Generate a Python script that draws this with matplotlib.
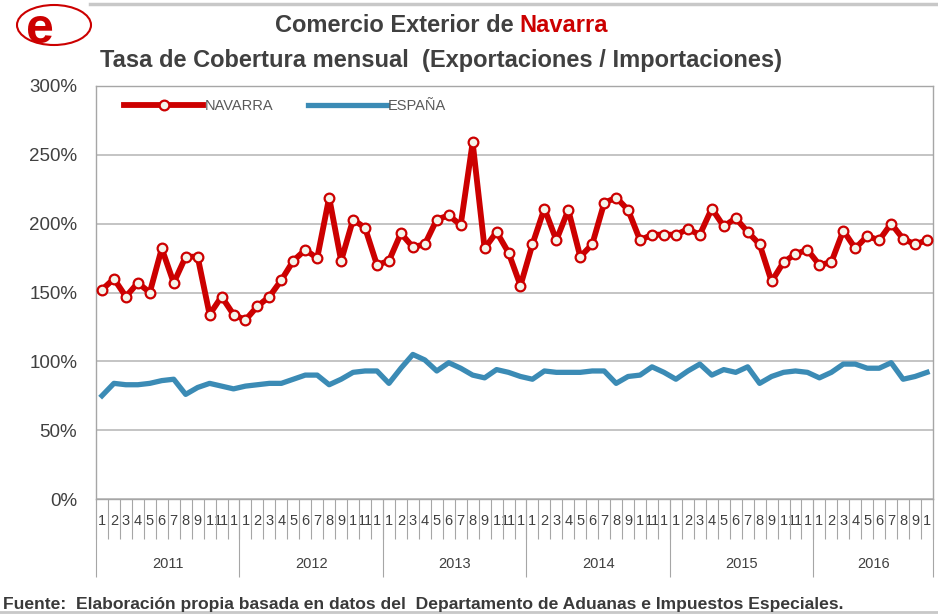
import numpy as np
import matplotlib
matplotlib.use("Agg")
import matplotlib.pyplot as plt
from matplotlib.patches import Ellipse
from matplotlib.ticker import FuncFormatter

plt.rcParams['font.family'] = ['Liberation Sans', 'DejaVu Sans']

# monthly data Jan 2011 - Oct 2016 (%)
years = ["2011", "2012", "2013", "2014", "2015", "2016"]
months_per_year = [12, 12, 12, 12, 12, 10]
month_labels = ["1", "2", "3", "4", "5", "6", "7", "8", "9", "1", "11", "1"]

navarra = [152, 160, 147, 157, 150, 182, 157, 176, 176, 134, 147, 134,
           130, 140, 147, 159, 173, 181, 175, 219, 173, 203, 197, 170,
           173, 193, 183, 185, 203, 206, 199, 259, 182, 194, 179, 155,
           185, 211, 188, 210, 176, 185, 215, 219, 210, 188, 192, 192,
           192, 196, 192, 211, 198, 204, 194, 185, 158, 172, 178, 181,
           170, 172, 195, 182, 191, 188, 200, 189, 185, 188]

espana = [75, 84, 83, 83, 84, 86, 87, 76, 81, 84, 82, 80,
          82, 83, 84, 84, 87, 90, 90, 83, 87, 92, 93, 93,
          84, 95, 105, 101, 93, 99, 95, 90, 88, 94, 92, 89,
          87, 93, 92, 92, 92, 93, 93, 84, 89, 90, 96, 92,
          87, 93, 98, 90, 94, 92, 96, 84, 89, 92, 93, 92,
          88, 92, 98, 98, 95, 95, 99, 87, 89, 92]


def main():
    W, H = 938, 614
    fig = plt.figure(figsize=(W / 100, H / 100), dpi=100)
    ax = fig.add_axes([96 / W, 1 - 499 / H, (933 - 96) / W, (499 - 86) / H])

    n = len(navarra)
    x = np.arange(n)
    gray = "#A6A6A6"
    text_gray = "#404040"

    ax.plot(x, espana, color="#3B8BB5", lw=3.8, solid_joinstyle="round",
            label="ESPAÑA", zorder=3)
    ax.plot(x, navarra, color="#CC0000", lw=4.2, marker="o", ms=7,
            mfc="#F4F4EA", mec="#CC0000", mew=1.6, solid_joinstyle="round",
            label="NAVARRA", zorder=4)

    ax.set_ylim(0, 300)
    ax.set_xlim(-0.5, n - 0.5)
    ax.set_yticks(np.arange(0, 301, 50))
    ax.yaxis.set_major_formatter(FuncFormatter(lambda v, p: "%d%%" % v))
    ax.tick_params(axis="y", length=0, pad=13.5, labelsize=13.5, labelcolor=text_gray)
    ax.grid(axis="y", color="#BFBFBF", lw=1.3)
    ax.set_axisbelow(True)
    for s in ax.spines.values():
        s.set_color(gray)
        s.set_linewidth(1.0)

    # month labels and month separators
    labels = []
    for m in months_per_year:
        labels += month_labels[:m]
    ax.set_xticks(x, labels=labels)
    ax.tick_params(axis="x", which="major", length=0, pad=11, labelsize=10.5,
                   labelcolor=text_gray)
    ax.set_xticks(np.arange(-0.5, n, 1.0), minor=True)
    ax.tick_params(axis="x", which="minor", length=29, width=0.8, color=gray)

    # year separators and year labels
    bounds = np.concatenate([[0], np.cumsum(months_per_year)]) - 0.5
    mids = (bounds[:-1] + bounds[1:]) / 2
    yax = ax.secondary_xaxis("bottom")
    yax.set_xticks(bounds, labels=[""] * len(bounds))
    yax.set_xticks(mids, labels=years, minor=True)
    yax.tick_params(axis="x", which="major", length=56, width=0.8, color=gray)
    yax.tick_params(axis="x", which="minor", length=0, pad=42, labelsize=10.5,
                    labelcolor=text_gray)
    yax.spines["bottom"].set_visible(False)

    leg = ax.legend(handles=ax.get_lines()[::-1], loc="upper left",
                    bbox_to_anchor=(0.018, 1.0), ncol=2, frameon=False,
                    fontsize=10.5, handlelength=5.4, handletextpad=0.1,
                    columnspacing=2.4)
    for t in leg.get_texts():
        t.set_color("#595959")

    # titles
    fig.text(514 / W, 1 - 25 / H, "Comercio Exterior de", ha="right", va="center",
             fontsize=17, fontweight="bold", color=text_gray)
    fig.text(519 / W, 1 - 25 / H, "Navarra", ha="left", va="center",
             fontsize=17, fontweight="bold", color="#CC0000")
    fig.text(441 / W, 1 - 60 / H,
             "Tasa de Cobertura mensual  (Exportaciones / Importaciones)",
             ha="center", va="center", fontsize=17, fontweight="bold",
             color=text_gray)

    fig.text(3 / W, 1 - 604 / H,
             "Fuente:  Elaboración propia basada en datos del  Departamento de Aduanas e Impuestos Especiales.",
             ha="left", va="center", fontsize=12.6, fontweight="bold",
             color="#3A3A3A")

    # decorative lines and logo
    fig.add_artist(plt.Line2D([90 / W, 1], [1 - 4 / H] * 2, color="#C8C8C8", lw=2.5))
    fig.add_artist(plt.Line2D([0, 1], [1 - 612 / H] * 2, color="#C8C8C8", lw=2))
    fig.add_artist(Ellipse((54 / W, 1 - 25 / H), 74 / W, 40 / H, fill=False,
                           ec="#CC0000", lw=1.5))
    fig.text(40 / W, 1 - 43 / H, "e", ha="center", va="baseline", fontsize=36,
             fontweight="bold", color="#CC0000")

    fig.savefig("out.png", dpi=100)


if __name__ == '__main__':
    main()
